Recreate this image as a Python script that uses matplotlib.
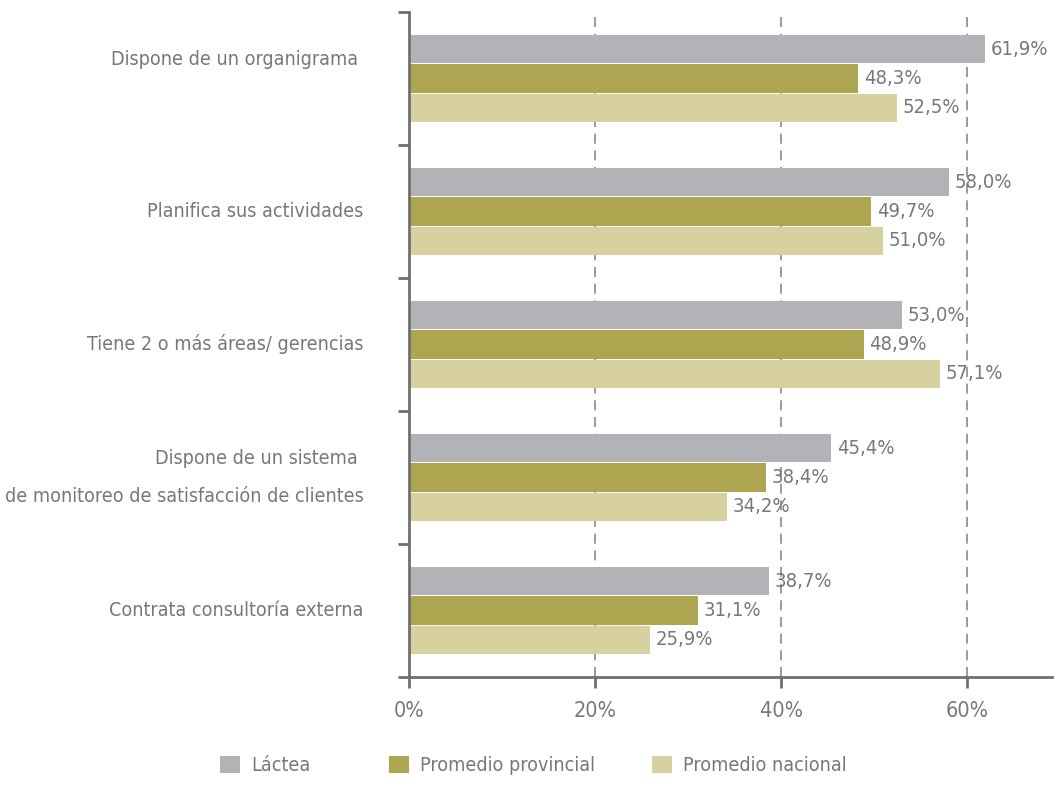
import numpy as np
import matplotlib
matplotlib.use('Agg')
import matplotlib.pyplot as plt
from matplotlib.patches import Patch

plt.rcParams['font.family'] = ['DejaVu Sans']
plt.rcParams['font.stretch'] = 'condensed'

categories = [
    'Dispone de un organigrama \n',
    'Planifica sus actividades',
    'Tiene 2 o más áreas/ gerencias',
    'Dispone de un sistema \nde monitoreo de satisfacción de clientes',
    'Contrata consultoría externa',
]
series_names = ['Láctea', 'Promedio provincial', 'Promedio nacional']
lactea = [61.9, 58.0, 53.0, 45.4, 38.7]
provincial = [48.3, 49.7, 48.9, 38.4, 31.1]
nacional = [52.5, 51.0, 57.1, 34.2, 25.9]
x_ticks = [0, 20, 40, 60]

colors = ['#b3b2b7', '#ada550', '#d7d19f']
text_color = '#78787b'
axis_color = '#707072'

fig = plt.figure(figsize=(10.55, 7.89), dpi=100)
ax = fig.add_axes([0.3877, 0.142, 0.6093, 0.8428])

y = np.arange(len(categories))
bar_h = 0.212
offsets = [-0.22, 0.0, 0.22]
for vals, off, col in zip([lactea, provincial, nacional], offsets, colors):
    ax.barh(y + off, vals, height=bar_h, color=col, zorder=2)
    for yi, v in zip(y, vals):
        ax.text(v + 0.6, yi + off, f'{v:.1f}%'.replace('.', ','),
                va='center', ha='left', fontsize=14.5, color=text_color, zorder=3)

ax.set_xlim(0, 69.1)
ax.set_ylim(len(categories) - 0.5, -0.5)

for xv in x_ticks[1:]:
    ax.axvline(xv, color='#8a8a8c', linestyle=(0, (6, 4)), linewidth=1.2, zorder=1)

ax.set_xticks(x_ticks)
ax.set_xticklabels([f'{v}%' for v in x_ticks], fontsize=15.5, color=text_color)
ax.set_yticks(np.arange(-0.5, len(categories), 1.0))
ax.set_yticklabels([])
ax.tick_params(axis='both', colors=axis_color, width=2, length=8, direction='out')
ax.tick_params(axis='x', pad=9, labelcolor=text_color)

for yi, cat in zip(y, categories):
    ax.text(-4.9, yi, cat, ha='right', va='center', multialignment='right',
            fontsize=14.1, color=text_color, linespacing=2.3,
            transform=ax.transData, clip_on=False)

for s in ['top', 'right']:
    ax.spines[s].set_visible(False)
for s in ['left', 'bottom']:
    ax.spines[s].set_color(axis_color)
    ax.spines[s].set_linewidth(2)

# legend entries sit at fixed spots under the chart
legend_x = [220, 389, 652]
for name, col, lx in zip(series_names, colors, legend_x):
    fig.legend([Patch(facecolor=col, edgecolor='none')], [name],
               loc='center left', bbox_to_anchor=(lx / 1055, 0.03),
               frameon=False, fontsize=14.1, labelcolor=text_color,
               borderpad=0, borderaxespad=0,
               handlelength=1.0, handleheight=1.0, handletextpad=0.6)

fig.savefig('out.png', dpi=100)
